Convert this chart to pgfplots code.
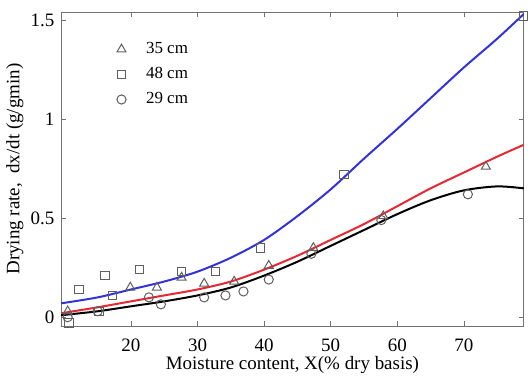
\documentclass[border=0pt]{standalone}
\usepackage{pgfplots}
\pgfplotsset{compat=1.18}
\usepackage{fontspec}
\setmainfont{Liberation Serif}

\definecolor{fitblue}{RGB}{50,50,220}
\definecolor{fitred}{RGB}{230,40,50}
\definecolor{markgray}{RGB}{95,95,95}

\begin{document}
\fontsize{9.5}{11.5}\selectfont
\begin{tikzpicture}
\begin{axis}[
  scale only axis,
  width=232pt, height=157.5pt,
  xmin=9.5, xmax=79, ymin=-0.045, ymax=1.54,
  xtick={20,30,40,50,60,70},
  ytick={0,0.5,1,1.5},
  yticklabels={0,0.5,1,1.5},
  tick align=inside,
  major tick length=2.5pt,
  tick style={color=black!55},
  axis line style={color=black!55},
  /pgf/number format/assume math mode=true,
  ticklabel style={font=\fontsize{9.5}{11.5}\selectfont},
  xticklabel style={yshift=-3pt},
  xlabel={Moisture content, X(\% dry basis)},
  ylabel={Drying rate,\ \ dx/dt (g/gmin)},
  label style={font=\fontsize{9.5}{11.5}\selectfont},
  xlabel style={yshift=4pt},
  ylabel style={yshift=-3pt},
  legend style={at={(0.107,0.93)}, anchor=north west, draw=none, fill=none,
    font=\fontsize{8.5}{10}\selectfont, row sep=1.5pt},
  legend cell align=left,
]
% measured drying rates
\addplot[only marks, mark=triangle, mark size=2.6pt, color=markgray, mark options={line width=0.5pt}]
  coordinates {(10.5,0.03)(19.9,0.15)(23.9,0.15)(27.6,0.20)(31,0.17)(35.5,0.18)
               (40.7,0.26)(47.4,0.35)(57.9,0.51)(73.3,0.76)};
\addlegendentry{\hspace{8pt}35 cm}
\addplot[only marks, mark=square, mark size=2.1pt, color=markgray, mark options={line width=0.5pt}]
  coordinates {(10.7,-0.03)(12.2,0.14)(15.2,0.03)(16.1,0.21)(17.2,0.11)(21.3,0.24)
               (27.6,0.23)(32.7,0.23)(39.5,0.35)(52,0.72)(79,1.52)};
\addlegendentry{\hspace{8pt}48 cm}
\addplot[only marks, mark=o, mark size=2.3pt, color=markgray, mark options={line width=0.5pt}]
  coordinates {(10.5,0.0)(15,0.03)(22.7,0.10)(24.5,0.065)(31,0.10)(34.2,0.11)
               (36.9,0.13)(40.7,0.19)(47.1,0.32)(57.6,0.49)(70.6,0.62)};
\addlegendentry{\hspace{8pt}29 cm}

% fitted curves
\addplot[forget plot, smooth, fitblue, line width=1pt]
  coordinates {(9.5,0.07)(15,0.10)(20,0.14)(25,0.18)(30,0.23)(35,0.30)(40,0.39)
               (45,0.51)(50,0.645)(55,0.80)(60,0.95)(65,1.105)(70,1.26)(75,1.405)(79,1.53)};
\addplot[forget plot, smooth, fitred, line width=1pt]
  coordinates {(9.5,0.02)(15,0.05)(20,0.08)(25,0.11)(30,0.14)(35,0.18)(40,0.24)
               (45,0.31)(50,0.39)(55,0.47)(60,0.56)(65,0.65)(70,0.73)(75,0.81)(79,0.87)};
\addplot[forget plot, smooth, black, line width=1pt]
  coordinates {(9.5,0.01)(15,0.03)(20,0.055)(25,0.08)(30,0.11)(35,0.15)(40,0.21)
               (45,0.28)(50,0.36)(55,0.44)(60,0.52)(65,0.59)(70,0.64)(75,0.66)(79,0.65)};
\end{axis}
% a little white space above the frame
\path ([yshift=6pt]current axis.north);
\end{tikzpicture}
\end{document}
